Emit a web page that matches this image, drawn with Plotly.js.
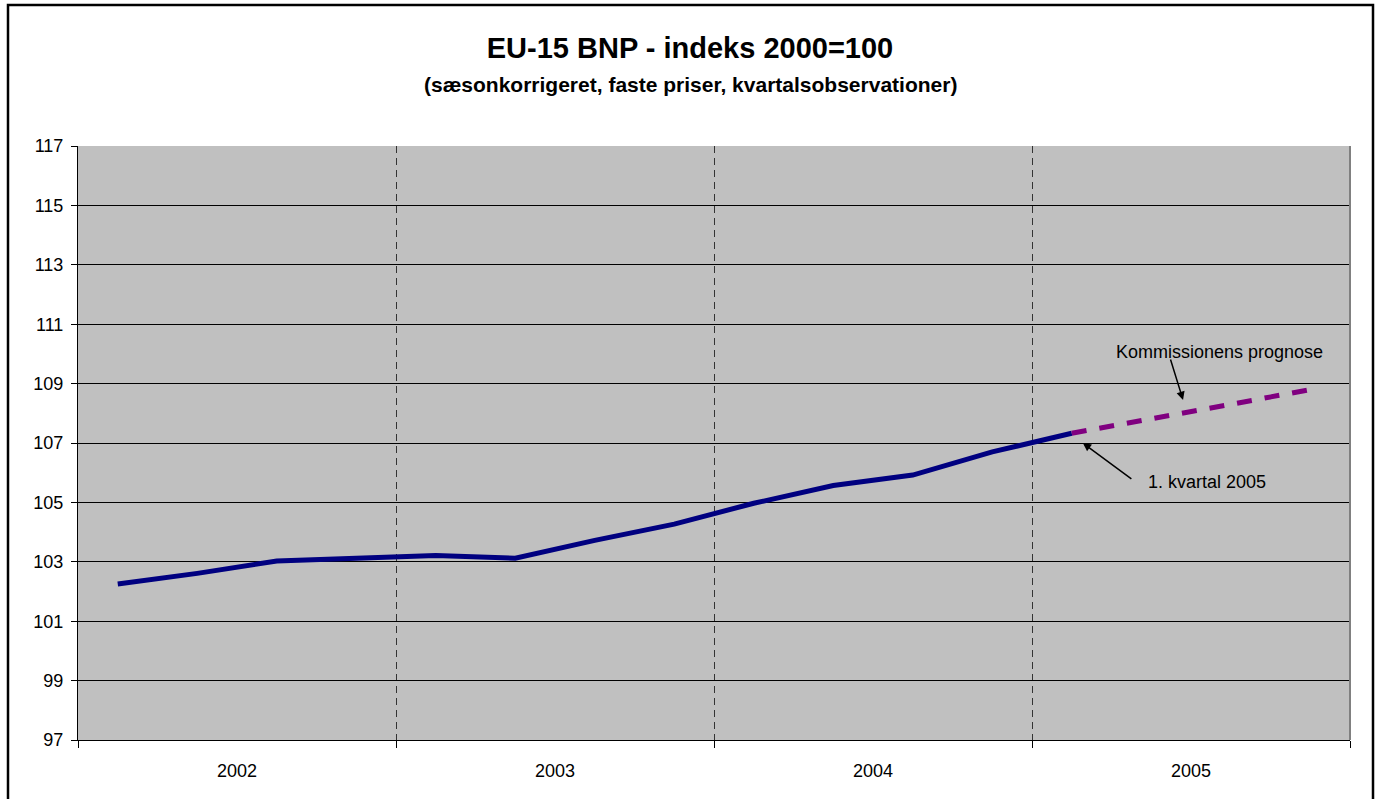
<!DOCTYPE html>
<html>
<head>
<meta charset="utf-8">
<script src="https://cdn.plot.ly/plotly-3.0.1.min.js"></script>
<style>html,body{margin:0;padding:0;background:#fff;}#chart{width:1380px;height:799px;}</style>
</head>
<body>
<div id="chart"></div>
<script>
// Data (quarterly, EU-15 GDP index 2000=100)
const years = [2002, 2003, 2004, 2005];
const actualYears    = [2002, 2002, 2002, 2002, 2003, 2003, 2003, 2003, 2004, 2004, 2004, 2004, 2005];
const actualQuarters = [1, 2, 3, 4, 1, 2, 3, 4, 1, 2, 3, 4, 1];
const actualValues   = [102.25, 102.61, 103.03, 103.14, 103.21, 103.12, 103.72, 104.27, 104.97, 105.57, 105.92, 106.70, 107.33];
const forecastYears    = [2005, 2005, 2005, 2005];
const forecastQuarters = [1, 2, 3, 4];
const forecastValues   = [107.33, 107.80, 108.30, 108.80];
const yTicks = [97, 99, 101, 103, 105, 107, 109, 111, 113, 115, 117];

const qx = (y, q) => y + (q - 0.5) / 4;
const FONT = 'Liberation Sans, Arial, sans-serif';

const traces = [
  {
    x: actualYears.map((y, i) => qx(y, actualQuarters[i])),
    y: actualValues,
    mode: 'lines',
    line: {color: '#000080', width: 5},
    hoverinfo: 'skip'
  },
  {
    x: forecastYears.map((y, i) => qx(y, forecastQuarters[i])),
    y: forecastValues,
    mode: 'lines',
    line: {color: '#800080', width: 5, dash: '15px,13px'},
    hoverinfo: 'skip'
  }
];

const layout = {
  width: 1380, height: 799,
  margin: {l: 78, r: 30, t: 146, b: 59},
  paper_bgcolor: '#ffffff',
  plot_bgcolor: '#c0c0c0',
  showlegend: false,
  font: {family: FONT, color: '#000', size: 18},
  title: {
    text: '<b>EU-15 BNP - indeks 2000=100</b>',
    font: {family: FONT, size: 29, color: '#000'},
    x: 0.5, xref: 'container', xanchor: 'center',
    y: 1 - 48 / 799, yref: 'container', yanchor: 'middle'
  },
  xaxis: {
    range: [2002, 2006],
    tickmode: 'array',
    tickvals: years.map(y => y + 0.5),
    ticktext: years.map(String),
    ticks: '',
    showgrid: false,
    zeroline: false,
    showline: true, linecolor: '#000', linewidth: 1,
    tickfont: {family: FONT, size: 18, color: '#000'},
    ticklabelstandoff: 14,
    minor: {
      tickmode: 'linear', tick0: 2002, dtick: 1,
      ticks: 'outside', ticklen: 7, tickcolor: '#000', tickwidth: 1,
      showgrid: true, gridcolor: '#333333', gridwidth: 1, griddash: '7px,5px'
    },
    fixedrange: true
  },
  yaxis: {
    range: [97, 117],
    tickmode: 'array',
    tickvals: yTicks,
    ticktext: yTicks.map(String),
    ticks: 'outside', ticklen: 6, tickcolor: '#000', tickwidth: 1,
    showgrid: true, gridcolor: '#000', gridwidth: 1,
    zeroline: false,
    showline: true, linecolor: '#000', linewidth: 1,
    tickfont: {family: FONT, size: 18, color: '#000'},
    ticklabelstandoff: 4,
    fixedrange: true
  },
  shapes: [
    {type: 'line', xref: 'paper', yref: 'paper', x0: 1, x1: 1, y0: 0, y1: 1,
     line: {color: '#808080', width: 2}},
    {type: 'rect', xref: 'paper', yref: 'paper',
     x0: (8 - 78) / 1272, x1: (1373 - 78) / 1272,
     y0: -0.15, y1: (740 - 5) / 594,
     line: {color: '#000', width: 2.5}, fillcolor: 'rgba(0,0,0,0)'}
  ],
  annotations: [
    {text: '<b>(sæsonkorrigeret, faste priser, kvartalsobservationer)</b>',
     xref: 'paper', yref: 'paper', x: (690 - 78) / 1272, y: (740 - 85) / 594,
     xanchor: 'center', yanchor: 'middle', showarrow: false,
     font: {family: FONT, size: 21, color: '#000'}},
    {text: 'Kommissionens prognose', xref: 'x', yref: 'y',
     x: 2005.591, y: 110.06, xanchor: 'center', yanchor: 'middle', showarrow: false,
     font: {family: FONT, size: 18, color: '#000'}},
    {text: '', xref: 'x', yref: 'y', x: 2005.475, y: 108.45,
     showarrow: true, ax: -13, ay: -42, arrowhead: 2, arrowsize: 1.1, arrowwidth: 1.5, arrowcolor: '#000'},
    {text: '1. kvartal 2005', xref: 'x', yref: 'y',
     x: 2005.55, y: 105.69, xanchor: 'center', yanchor: 'middle', showarrow: false,
     font: {family: FONT, size: 18, color: '#000'}},
    {text: '', xref: 'x', yref: 'y', x: 2005.16, y: 107.0,
     showarrow: true, ax: 50, ay: 37, arrowhead: 2, arrowsize: 1.1, arrowwidth: 1.5, arrowcolor: '#000'}
  ]
};

Plotly.newPlot('chart', traces, layout, {staticPlot: true, displayModeBar: false});
</script>
</body>
</html>
